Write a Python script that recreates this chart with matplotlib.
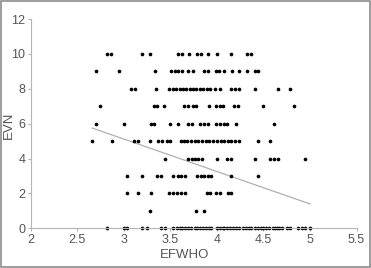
import matplotlib
matplotlib.use("Agg")
import matplotlib.pyplot as plt
from matplotlib.patches import Rectangle

# EFWHO values of the points, one list per EVN level
row_0 = [2.82, 3.00, 3.03, 3.20, 3.25, 3.40, 3.44,
         3.53, 3.57, 3.60, 3.63, 3.66, 3.69, 3.72, 3.76, 3.79, 3.82, 3.85,
         3.88, 3.91, 3.94, 4.00, 4.03, 4.06, 4.08, 4.11, 4.14, 4.17, 4.21,
         4.24, 4.28, 4.31, 4.34, 4.37, 4.41, 4.44, 4.47, 4.50, 4.53, 4.56,
         4.60, 4.62, 4.65, 4.67, 4.70, 4.75, 4.79, 4.87, 4.91, 4.95, 5.00]
row_1 = [3.285, 3.78, 3.865]
row_2 = [3.035, 3.155, 3.29, 3.49, 3.53, 3.57, 3.61, 3.655, 3.89, 3.93,
         3.99, 4.03, 4.115, 4.155]
row_3 = [3.035, 3.20, 3.36, 3.40, 3.53, 3.58, 3.615, 3.655, 3.79, 3.825,
         3.86, 3.90, 3.94, 4.155, 4.445]
row_4 = [3.44, 3.69, 3.73, 3.76, 3.80, 3.84, 4.00, 4.11, 4.15, 4.41, 4.57,
         4.61, 4.655, 4.95]
row_5 = [2.655, 2.87, 3.11, 3.15, 3.28, 3.37, 3.41, 3.46, 3.50, 3.61,
         3.645, 3.68, 3.72, 3.76, 3.80, 3.84, 3.88, 3.92, 3.96, 4.00, 4.04,
         4.08, 4.12, 4.155, 4.19, 4.24, 4.44, 4.57]
row_6 = [2.70, 3.00, 3.29, 3.32, 3.50, 3.585, 3.69, 3.735, 3.82, 3.86,
         3.90, 3.99, 4.03, 4.08, 4.11, 4.20, 4.61]
row_7 = [2.74, 3.32, 3.36, 3.43, 3.65, 3.69, 3.74, 3.78, 3.91, 3.99, 4.03,
         4.06, 4.18, 4.23, 4.49, 4.83]
row_8 = [3.08, 3.12, 3.34, 3.49, 3.53, 3.56, 3.60, 3.64, 3.67, 3.71, 3.74,
         3.78, 3.82, 3.85, 3.89, 3.93, 3.98, 4.03, 4.15, 4.19, 4.24, 4.41,
         4.66, 4.79]
row_9 = [2.70, 2.945, 3.33, 3.51, 3.55, 3.585, 3.62, 3.69, 3.74, 3.86,
         3.90, 3.99, 4.02, 4.08, 4.16, 4.24, 4.32, 4.41, 4.445]
row_10 = [2.82, 2.865, 3.20, 3.285, 3.585, 3.62, 3.70, 3.79, 3.825, 3.90,
          4.00, 4.155, 4.32, 4.365]
rows = [row_0, row_1, row_2, row_3, row_4, row_5, row_6, row_7, row_8,
        row_9, row_10]

# fitted line end points
trend_x = [2.66, 5.0]
trend_y = [5.75, 1.4]

x_ticks = [2, 2.5, 3, 3.5, 4, 4.5, 5, 5.5]
x_labels = ['2', '2.5', '3', '3.5', '4', '4.5', '5', '5.5']
y_ticks = [0, 2, 4, 6, 8, 10, 12]

plt.rcParams['font.family'] = ['Liberation Sans', 'DejaVu Sans']

fig = plt.figure(figsize=(3.71, 2.68), dpi=100)
ax = fig.add_axes([0.083, 0.148, 0.878, 0.781])

xs, ys = [], []
for level, vals in enumerate(rows):
    xs += vals
    ys += [level] * len(vals)

ax.plot(trend_x, trend_y, color='#b0b0b0', lw=0.9, zorder=1)
ax.scatter(xs, ys, s=7, color='black', linewidths=0, zorder=2, clip_on=False)

ax.set_xlim(2, 5.5)
ax.set_ylim(0, 12)
ax.set_xticks(x_ticks)
ax.set_xticklabels(x_labels)
ax.set_yticks(y_ticks)

for side in ['top', 'right']:
    ax.spines[side].set_visible(False)
for side in ['left', 'bottom']:
    ax.spines[side].set_color('#b5b5b5')
    ax.spines[side].set_linewidth(0.8)
ax.tick_params(colors='#b5b5b5', labelcolor='#555555', labelsize=9,
               length=2, width=0.8, pad=2)
ax.set_xlabel('EFWHO', color='#555555', fontsize=9.5)
ax.set_ylabel('EVN', color='#555555', fontsize=9.5)
ax.xaxis.set_label_coords(0.473, -0.10)
ax.yaxis.set_label_coords(-0.048, 0.49)

# grey frame round the picture
fig.patches.append(Rectangle((0.003, 0.003), 0.994, 0.994,
                             transform=fig.transFigure, fill=False,
                             edgecolor='#8c8c8c', lw=1.2))

fig.savefig('out.png', dpi=100)
